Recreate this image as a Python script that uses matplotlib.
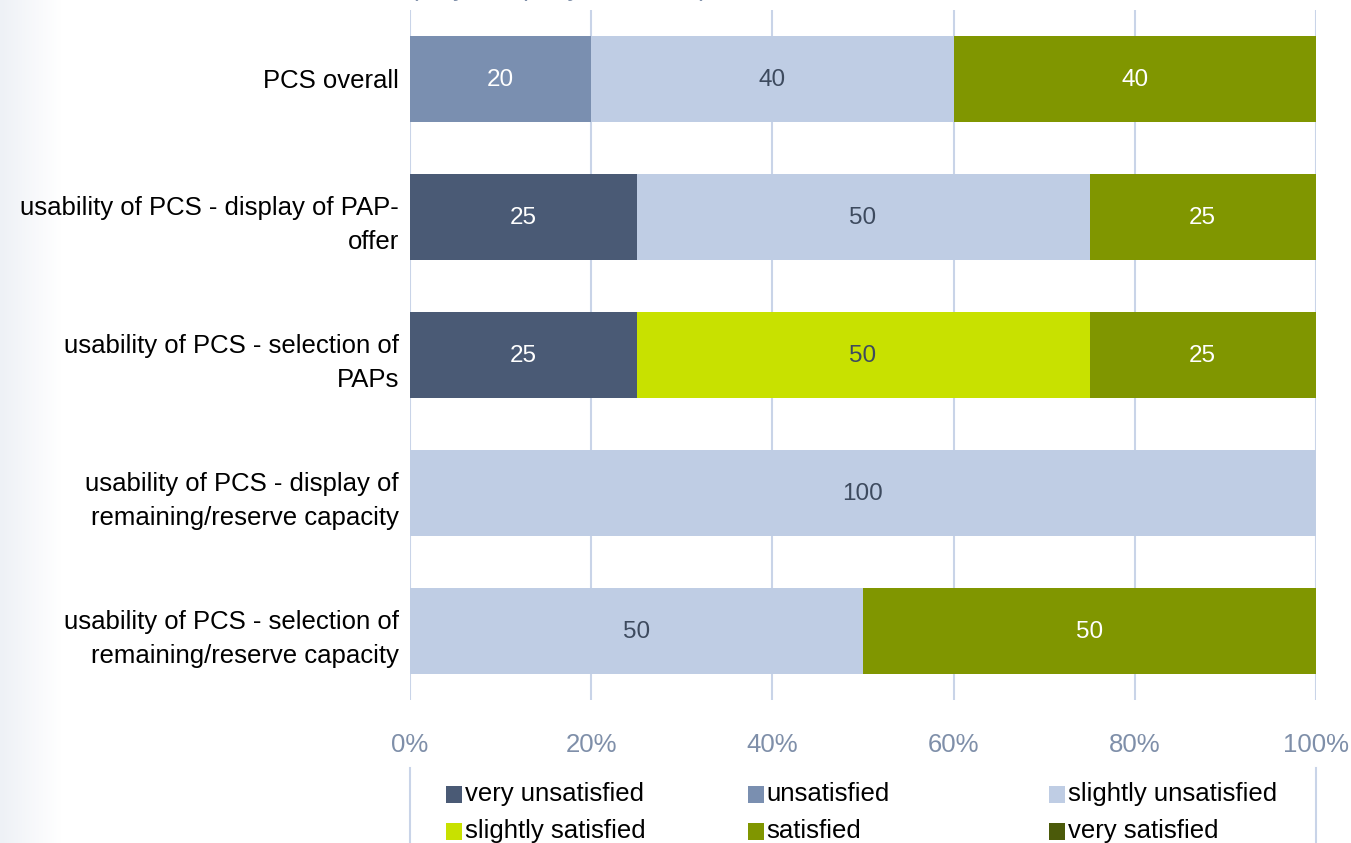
import numpy as np
import matplotlib.pyplot as plt
from matplotlib.patches import Rectangle
from matplotlib.colors import LinearSegmentedColormap

plt.rcParams['font.family'] = ['Liberation Sans', 'DejaVu Sans']

categories = [
    "PCS overall",
    "usability of PCS - display of PAP-\noffer",
    "usability of PCS - selection of\nPAPs",
    "usability of PCS - display of\nremaining/reserve capacity",
    "usability of PCS - selection of\nremaining/reserve capacity",
]
levels = ["very unsatisfied", "unsatisfied", "slightly unsatisfied",
          "slightly satisfied", "satisfied", "very satisfied"]
very_unsatisfied = [0, 25, 25, 0, 0]
unsatisfied = [20, 0, 0, 0, 0]
slightly_unsatisfied = [40, 50, 0, 100, 50]
slightly_satisfied = [0, 0, 50, 0, 0]
satisfied = [40, 25, 25, 0, 50]
very_satisfied = [0, 0, 0, 0, 0]
xticks = [0, 20, 40, 60, 80, 100]

series = [very_unsatisfied, unsatisfied, slightly_unsatisfied,
          slightly_satisfied, satisfied, very_satisfied]
colors = ["#4a5a75", "#7a8fb0", "#bfcde4", "#c8e100", "#809600", "#4b5a0a"]
text_colors = ["white", "white", "#3d4a5e", "#3d4a5e", "white", "white"]

fs = 18.5
W, H = 1351, 843
fig = plt.figure(figsize=(13.51, 8.43), dpi=100)

# faint gradient on the left edge
grad = fig.add_axes([0, 0, 0.045, 1])
grad.imshow(np.linspace(0, 1, 100)[None, :], aspect='auto',
            cmap=LinearSegmentedColormap.from_list('g', ['#eef1f6', '#ffffff']))
grad.axis('off')

ax = fig.add_axes([410 / W, 1 - 700 / H, (1316 - 410) / W, 690 / H])

y = np.arange(len(categories))
left = np.zeros(len(categories))
for vals, c, tc in zip(series, colors, text_colors):
    vals = np.array(vals, dtype=float)
    ax.barh(y, vals, left=left, height=0.63, color=c, zorder=2)
    for yi, v, l in zip(y, vals, left):
        if v > 0:
            ax.text(l + v / 2, yi + 0.01, f"{v:.0f}", ha='center', va='center',
                    color=tc, fontsize=17.5, zorder=3)
    left += vals

ax.set_xlim(0, 100)
ax.set_ylim(len(categories) - 0.5, -0.5)
ax.set_yticks(y)
ax.set_yticklabels(categories, fontsize=fs, color='black', ha='right',
                   linespacing=1.55)
ax.set_xticks(xticks)
ax.set_xticklabels([f"{t}%" for t in xticks], fontsize=fs, color='#7f8fa9')
ax.tick_params(axis='y', length=0, pad=8)
ax.tick_params(axis='x', length=0, pad=24)
for s in ax.spines.values():
    s.set_visible(False)
ax.grid(axis='x', color='#c9d4e8', linewidth=1.5, zorder=0)
ax.set_axisbelow(True)

# cut-off subtitle at the very top
fig.text(410 / W, 1 + 23 / H, "(only one party answered)", fontsize=fs,
         color='#7f8fa9', ha='left', va='top')

# legend frame lines
for xp in (410, 1316):
    fig.add_artist(plt.Line2D([xp / W, xp / W], [0, 1 - 768 / H],
                              color='#c9d4e8', linewidth=1.5))

# legend laid out in a fixed 3-column grid
for i, (lab, c) in enumerate(zip(levels, colors)):
    row, col = divmod(i, 3)
    x0 = 446 + col * 301.5
    yc = 794 + row * 37
    fig.add_artist(Rectangle((x0 / W, 1 - (yc + 8.5) / H), 16 / W, 17 / H,
                             transform=fig.transFigure, facecolor=c,
                             edgecolor='none'))
    fig.text((x0 + 19) / W, 1 - yc / H, lab, fontsize=fs, color='black',
             ha='left', va='center')

fig.savefig("out.png", dpi=100)
